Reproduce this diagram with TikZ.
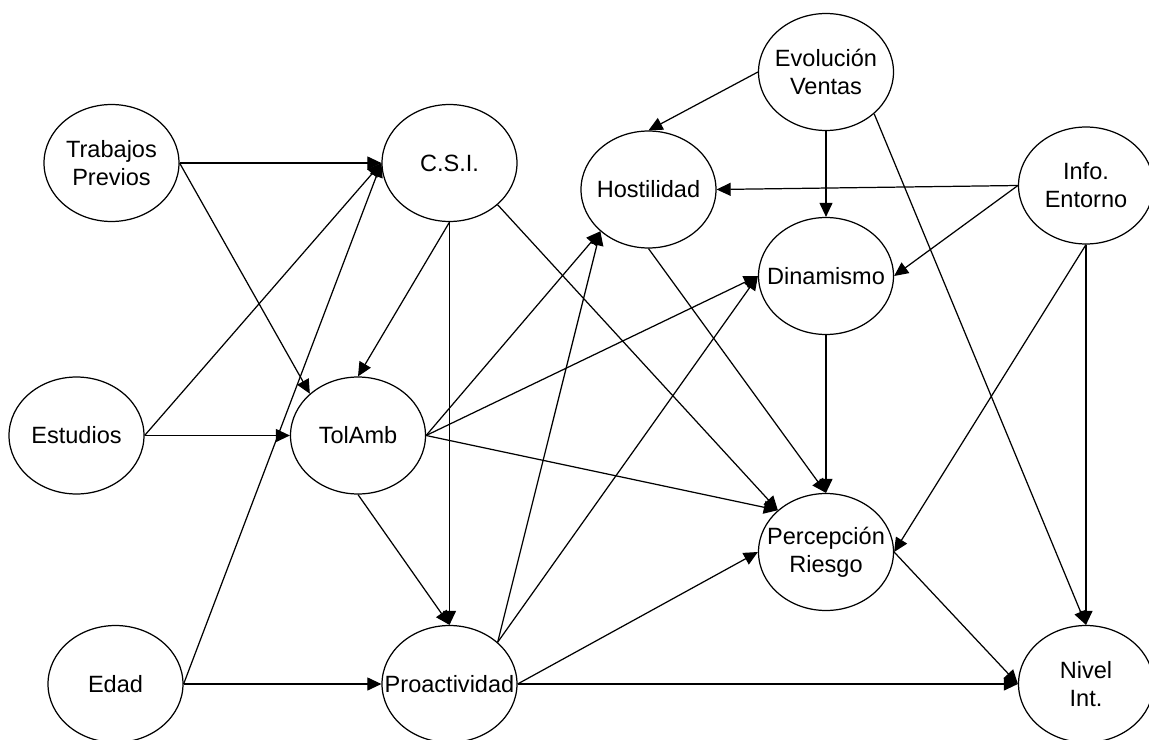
\documentclass[tikz,border=0pt]{standalone}
\usepackage{fontspec}
\setmainfont{Liberation Sans}
\usetikzlibrary{shapes.geometric,arrows.meta}
\begin{document}
\begin{tikzpicture}[x=0.02cm,y=-0.02cm,
  vnode/.style={ellipse, draw, line width=0.7pt, minimum width=2.7cm,
    minimum height=2.34cm, inner sep=0pt, fill=white},
  vtext/.style={align=center, inner sep=0pt, font=\fontsize{13.4}{16}\selectfont},
  arr/.style={line width=0.7pt, -{Triangle[length=8pt,width=7.4pt]}}]
\useasboundingbox (0,0) rectangle (1149,740);
\fill[white] (0,0) rectangle (1149,740);

% variables
\node[vnode] (tp)  at (111.5,163)   {};
\node[vnode] (csi) at (449.5,163)   {};
\node[vnode] (ho)  at (648.5,189.5) {};
\node[vnode] (ev)  at (826,72)      {};
\node[vnode] (ie)  at (1086,185.5)  {};
\node[vnode] (di)  at (826,276)     {};
\node[vnode] (es)  at (76.5,435.5)  {};
\node[vnode] (ta)  at (358,435.5)   {};
\node[vnode] (pe)  at (826,552)     {};
\node[vnode] (ed)  at (115.5,684)   {};
\node[vnode] (pr)  at (449.5,684)   {};
\node[vnode] (ni)  at (1086,684)    {};

% names of the variables
\node[vtext] (tp-t)  at (tp.center)  {Trabajos\\Previos};
\node[vtext] (csi-t) at (csi.center) {C.S.I.};
\node[vtext] (ho-t)  at (ho.center)  {Hostilidad};
\node[vtext] (ev-t)  at (ev.center)  {Evolución\\Ventas};
\node[vtext] (ie-t)  at (ie.center)  {Info.\\Entorno};
\node[vtext] (di-t)  at (di.center)  {Dinamismo};
\node[vtext] (es-t)  at (es.center)  {Estudios};
\node[vtext] (ta-t)  at (ta.center)  {TolAmb};
\node[vtext] (pe-t)  at (pe.center)  {Percepción\\Riesgo};
\node[vtext] (ed-t)  at (ed.center)  {Edad};
\node[vtext] (pr-t)  at (pr.center)  {Proactividad};
\node[vtext] (ni-t)  at (ni.center)  {Nivel\\Int.};

% dependencies
\draw[arr] (tp.east) -- (csi.west);
\draw[arr] (tp.east) -- (ta.north west);
\draw[arr] (es.east) -- (csi.west);
\draw[arr] (es.east) -- (ta.west);
\draw[arr] (ed.east) -- (csi.west);
\draw[arr] (ed.east) -- (pr.west);
\draw[arr] (csi.south) -- (ta.north);
\draw[arr] (csi.south) -- (pr.north);
\draw[arr] (csi.south east) -- (pe.north west);
\draw[arr] (ta.south) -- (pr.north);
\draw[arr] (ta.east) -- (ho.south west);
\draw[arr] (ta.east) -- (di.west);
\draw[arr] (ta.east) -- (pe.north west);
\draw[arr] (pr.north east) -- (ho.south west);
\draw[arr] (pr.north east) -- (di.west);
\draw[arr] (pr.east) -- (pe.west);
\draw[arr] (pr.east) -- (ni.west);
\draw[arr] (ev.west) -- (ho.north);
\draw[arr] (ev.south) -- (di.north);
\draw[arr] (ev.south east) -- (ni.north);
\draw[arr] (ie.west) -- (ho.east);
\draw[arr] (ie.west) -- (di.east);
\draw[arr] (ie.south) -- (pe.east);
\draw[arr] (ie.south) -- (ni.north);
\draw[arr] (ho.south) -- (pe.north);
\draw[arr] (di.south) -- (pe.north);
\draw[arr] (pe.east) -- (ni.west);
\end{tikzpicture}
\end{document}
